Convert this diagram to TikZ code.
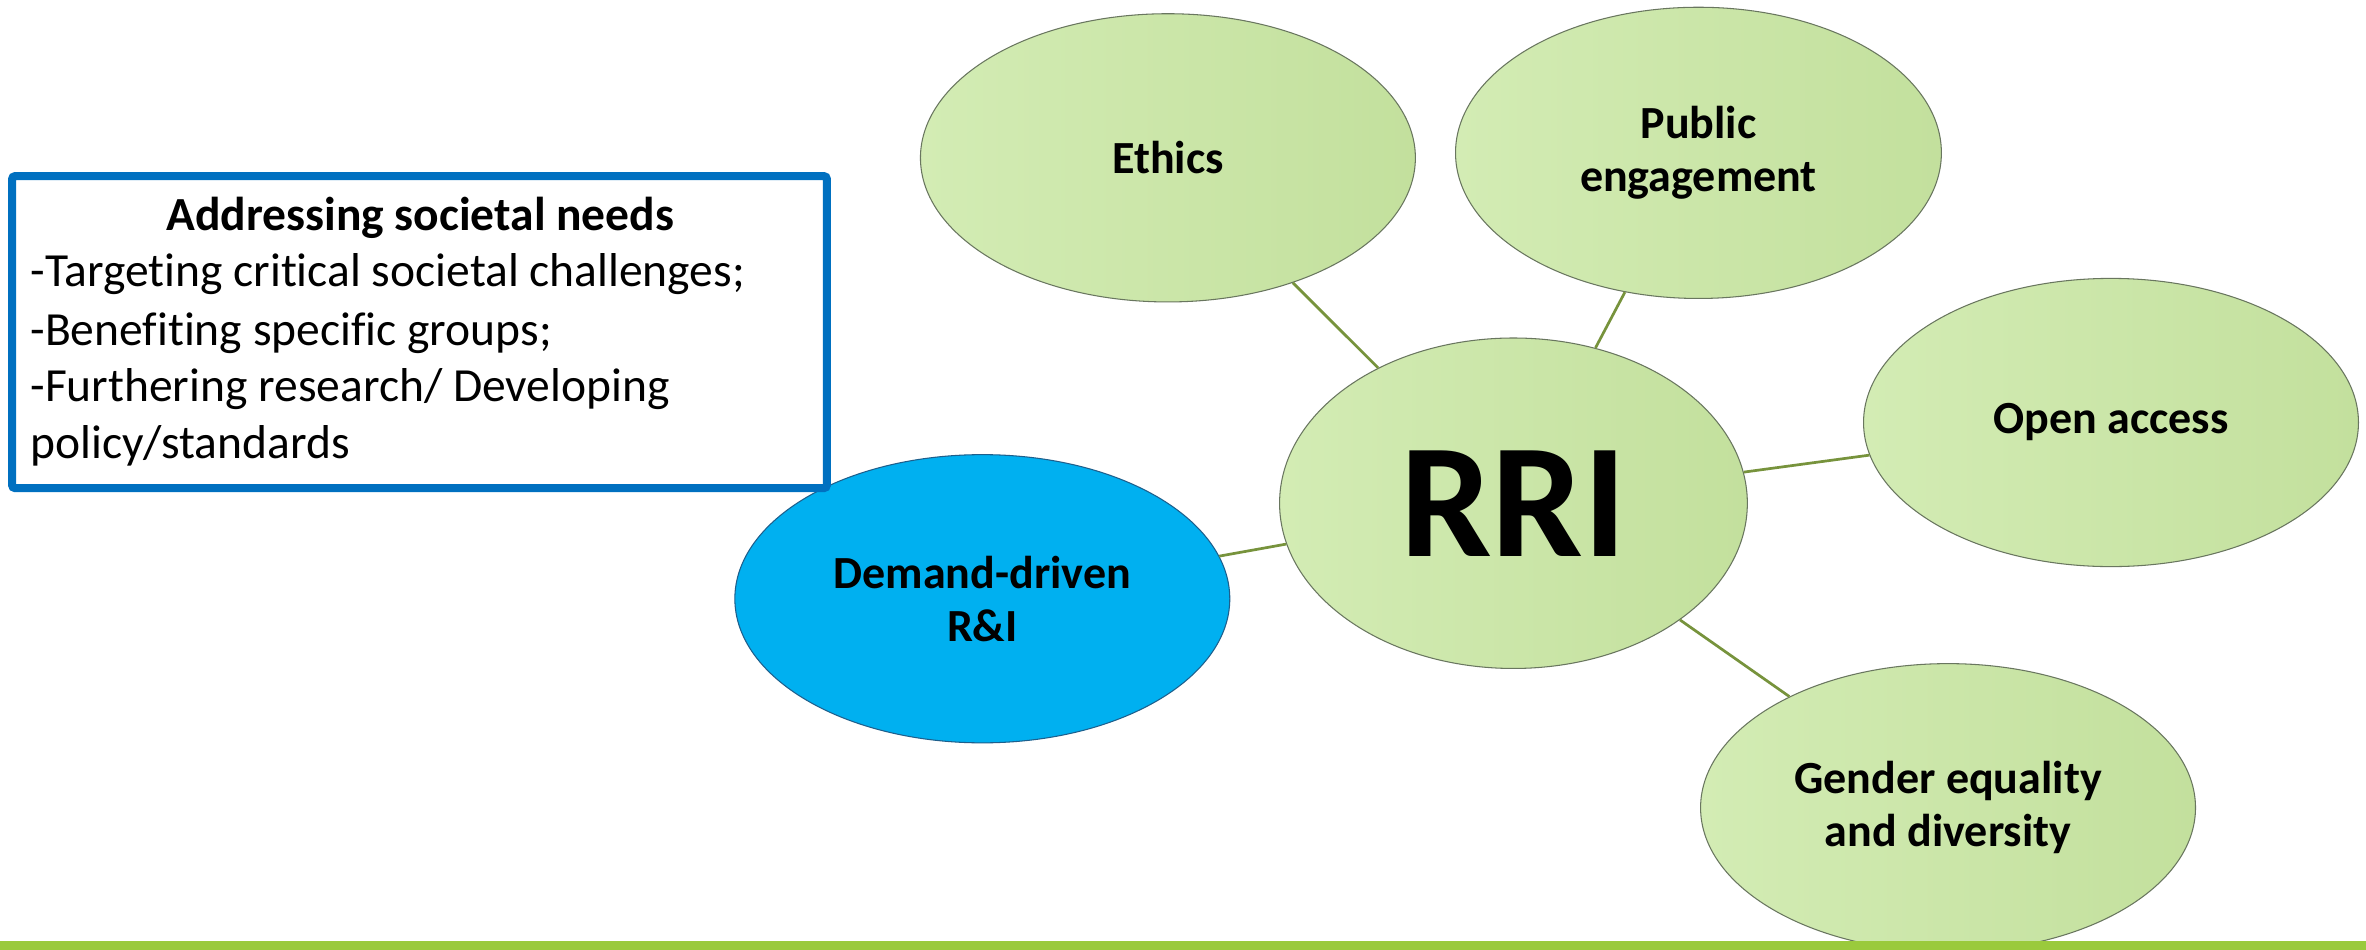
\documentclass[tikz,border=0pt]{standalone}
\usepackage{fontspec}
\setmainfont{Carlito}[Ligatures=NoCommon]
\usetikzlibrary{shapes.geometric}
\definecolor{boxblue}{RGB}{0,112,192}
\definecolor{lnk}{RGB}{119,147,60}
\definecolor{gl}{RGB}{211,236,180}
\definecolor{gr}{RGB}{195,224,157}
\definecolor{edgec}{RGB}{105,118,95}
\definecolor{dblue}{RGB}{0,176,240}
\definecolor{dblueedge}{RGB}{30,95,140}
\definecolor{barc}{RGB}{154,202,60}
\begin{document}
\begin{tikzpicture}[x=1pt,y=-1pt,
  bub/.style={ellipse, inner sep=0pt, minimum width=328pt, minimum height=191pt,
    draw=edgec, line width=0.7pt, left color=gl, right color=gr,
    font=\fontsize{30.5}{35}\selectfont\bfseries, align=center},
  link/.style={draw=lnk, line width=1.8pt},
  ln/.style={anchor=base west, inner sep=0pt, font=\fontsize{31.5}{37.7}\selectfont}]
\useasboundingbox (0,0) rectangle (1568,629);
\fill[white] (0,0) rectangle (1568,629);

% bubbles
\node[bub] (eth) at (774,104.6) {Ethics};
\node[bub, minimum width=322pt, minimum height=193pt] (pub) at (1125.6,101.3) {Public\\engagement};
\node[bub] (oa) at (1399,280) {Open access};
\node[bub, minimum width=310pt, minimum height=219pt,
      font=\fontsize{108}{120}\selectfont\bfseries] (rri) at (1003,333.5) {RRI};
\node[bub, left color=dblue, right color=dblue, draw=dblueedge] (dem) at (651,396.8) {Demand-driven\\R\&I};
\node[bub] (gen) at (1291,535.3) {Gender equality\\and diversity};

% connectors
\draw[link] (eth) -- (rri);
\draw[link] (pub) -- (rri);
\draw[link] (oa) -- (rri);
\draw[link] (dem) -- (rri);
\draw[link] (gen) -- (rri);

% text box
\draw[boxblue, line width=5.3pt, rounded corners=2pt] (8,116.7) rectangle (548,323.5);
\node[anchor=base, inner sep=0pt, font=\fontsize{31.5}{37.7}\selectfont\bfseries] (ttl) at (278.5,152.5) {Addressing societal needs};
\node[ln] (l1) at (20,190) {-Targeting critical societal challenges;};
\node[ln] (l2) at (20,228.7) {-Benefiting specific groups;};
\node[ln] (l3) at (20,266.3) {-Furthering research/ Developing};
\node[ln] (l4) at (20,303.8) {policy/standards};

% bottom bar
\fill[barc] (-5,623.7) rectangle (1575,640);
\end{tikzpicture}
\end{document}
